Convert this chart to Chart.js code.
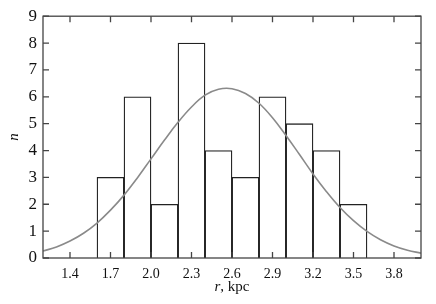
<!DOCTYPE html>
<html>
<head>
<meta charset="utf-8">
<script src="https://cdn.jsdelivr.net/npm/chart.js@4/dist/chart.umd.min.js"></script>
<style>
html,body{margin:0;padding:0;background:#fff;}
#wrap{width:436px;height:304px;position:relative;}
</style>
</head>
<body>
<div id="wrap"><canvas id="c" width="436" height="304"></canvas></div>
<script>
// Histogram bins (centres, kpc) and counts
const binCenters = [1.7, 1.9, 2.1, 2.3, 2.5, 2.7, 2.9, 3.1, 3.3, 3.5];
const counts     = [3, 6, 2, 8, 4, 3, 6, 5, 4, 2];
// Fitted curve, values
const curveX = [1.2,1.3,1.4,1.5,1.6,1.7,1.8,1.9,2.0,2.1,2.2,2.3,2.4,2.5,2.6,2.7,2.8,2.9,3.0,3.1,3.2,3.3,3.4,3.5,3.6,3.7,3.8,3.9,4.0];
const curveY = [0.26,0.41,0.63,0.92,1.30,1.78,2.34,2.99,3.69,4.39,5.05,5.62,6.06,6.28,6.30,6.12,5.76,5.22,4.56,3.85,3.13,2.47,1.88,1.39,0.99,0.68,0.45,0.29,0.18];
const xTicks = [1.4, 1.7, 2.0, 2.3, 2.6, 2.9, 3.2, 3.5, 3.8];
const yTicks = [0,1,2,3,4,5,6,7,8,9];

const serif = "'Liberation Serif', 'Times New Roman', serif";

const framePlugin = {
  id: 'frame',
  afterDraw(chart) {
    const {ctx, chartArea: {left, right, top, bottom}, scales: {x, y}} = chart;
    ctx.save();
    ctx.strokeStyle = '#444';
    ctx.lineWidth = 1.3;
    ctx.strokeRect(left, top, right - left, bottom - top);
    const L = 6;
    ctx.beginPath();
    xTicks.forEach(v => {
      const px = x.getPixelForValue(v);
      ctx.moveTo(px, bottom); ctx.lineTo(px, bottom - L);
      ctx.moveTo(px, top); ctx.lineTo(px, top + L);
    });
    yTicks.forEach(v => {
      const py = y.getPixelForValue(v);
      ctx.moveTo(left, py); ctx.lineTo(left + L, py);
      ctx.moveTo(right, py); ctx.lineTo(right - L, py);
    });
    ctx.stroke();
    // x axis title: italic r, upright ", kpc"
    const cx = (left + right) / 2;
    const by = 291;
    ctx.fillStyle = '#111';
    ctx.textBaseline = 'alphabetic';
    ctx.font = 'italic 15px ' + serif;
    const w1 = ctx.measureText('r').width;
    ctx.font = '15px ' + serif;
    const w2 = ctx.measureText(', kpc').width;
    const x0 = cx - (w1 + w2) / 2;
    ctx.font = 'italic 15px ' + serif;
    ctx.textAlign = 'left';
    ctx.fillText('r', x0, by);
    ctx.font = '15px ' + serif;
    ctx.fillText(', kpc', x0 + w1, by);
    ctx.restore();
  }
};

new Chart(document.getElementById('c'), {
  type: 'bar',
  data: {
    datasets: [
      {
        type: 'line',
        data: curveX.map((v, i) => ({x: v, y: curveY[i]})),
        borderColor: '#8a8a8a',
        borderWidth: 1.6,
        pointRadius: 0,
        tension: 0.4,
        fill: false,
        order: 0
      },
      {
        type: 'bar',
        data: binCenters.map((v, i) => ({x: v, y: counts[i]})),
        backgroundColor: '#ffffff',
        borderColor: '#222',
        borderWidth: 1.3,
        borderSkipped: 'start',
        barPercentage: 1.0,
        categoryPercentage: 1.0,
        order: 1
      }
    ]
  },
  options: {
    responsive: false,
    animation: false,
    layout: {padding: {top: 14, right: 15, left: 0, bottom: 0}},
    plugins: {legend: {display: false}, tooltip: {enabled: false}},
    scales: {
      x: {
        type: 'linear',
        offset: false,
        min: 1.2, max: 4.0,
        grid: {display: false, drawTicks: false},
        border: {display: false},
        afterBuildTicks: s => { s.ticks = xTicks.map(v => ({value: v})); },
        afterFit: s => { s.height = 46; },
        ticks: {
          autoSkip: false, maxRotation: 0, padding: 8,
          color: '#111',
          font: {family: serif, size: 14},
          callback: v => Number(v).toFixed(1)
        },
        title: {display: false}
      },
      y: {
        min: 0, max: 9,
        grid: {display: false, drawTicks: false},
        border: {display: false},
        afterBuildTicks: s => { s.ticks = yTicks.map(v => ({value: v})); },
        afterFit: s => { s.width = 43; },
        ticks: {
          padding: 6,
          color: '#111',
          font: {family: serif, size: 17},
          callback: v => String(v)
        },
        title: {
          display: true,
          text: 'n',
          color: '#111',
          font: {family: serif, size: 15, style: 'italic'},
          padding: {top: 5, bottom: 0}
        }
      }
    }
  },
  plugins: [framePlugin]
});
</script>
</body>
</html>
